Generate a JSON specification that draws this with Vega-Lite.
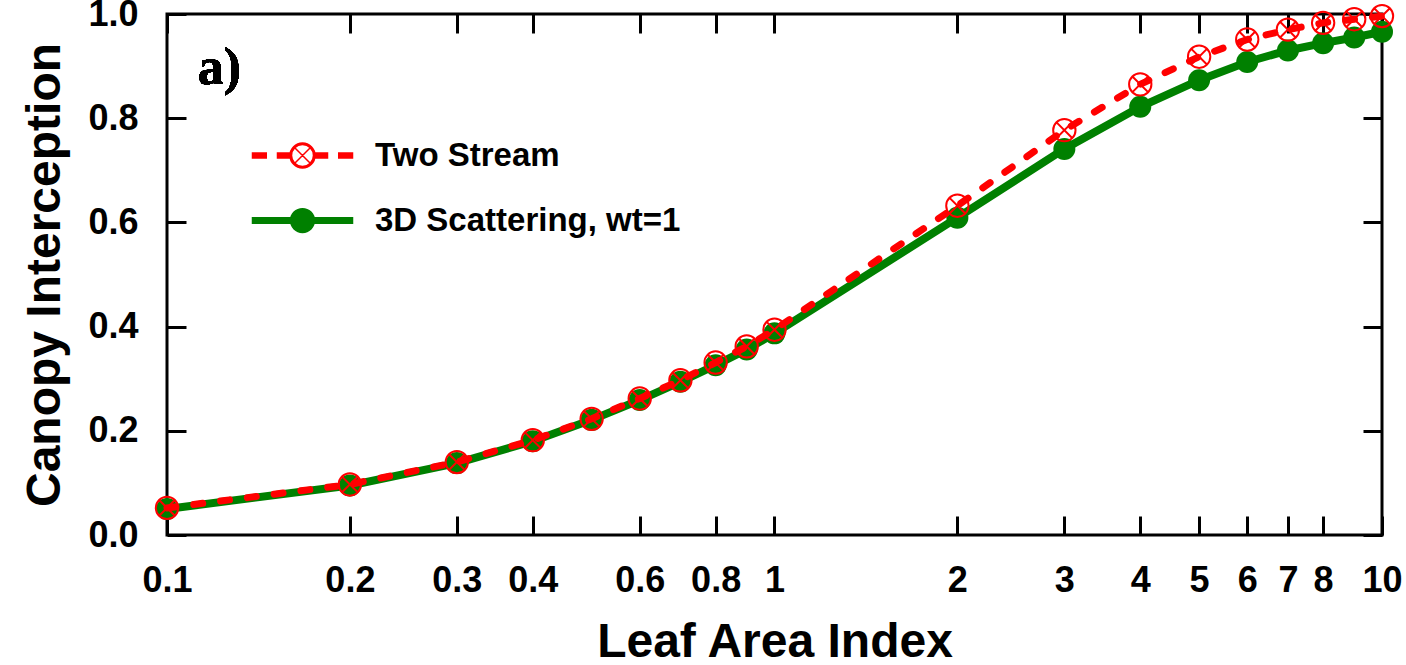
{
  "$schema": "https://vega.github.io/schema/vega-lite/v6.json",
  "width": 1215,
  "height": 521,
  "autosize": {"type": "none"},
  "padding": {"left": 167, "top": 14, "right": 24, "bottom": 130},
  "background": "white",
  "config": {
    "view": {"stroke": "black", "strokeWidth": 3},
    "font": "Liberation Sans",
    "axis": {
      "grid": false,
      "domain": false,
      "tickColor": "black",
      "tickWidth": 3,
      "tickSize": -19,
      "labelFont": "Liberation Sans",
      "labelFontWeight": "bold",
      "labelFontSize": 36,
      "labelColor": "black",
      "titleFont": "Liberation Sans",
      "titleFontWeight": "bold",
      "titleFontSize": 48,
      "titleColor": "black",
      "labelOverlap": false,
      "labelFlush": false,
      "labelBound": false
    }
  },
  "data": {
    "values": [
      {"lai": 0.1, "value": 0.052, "series": "Two Stream"},
      {"lai": 0.2, "value": 0.097, "series": "Two Stream"},
      {"lai": 0.3, "value": 0.14, "series": "Two Stream"},
      {"lai": 0.4, "value": 0.182, "series": "Two Stream"},
      {"lai": 0.5, "value": 0.223, "series": "Two Stream"},
      {"lai": 0.6, "value": 0.262, "series": "Two Stream"},
      {"lai": 0.7, "value": 0.297, "series": "Two Stream"},
      {"lai": 0.8, "value": 0.331, "series": "Two Stream"},
      {"lai": 0.9, "value": 0.362, "series": "Two Stream"},
      {"lai": 1, "value": 0.394, "series": "Two Stream"},
      {"lai": 2, "value": 0.632, "series": "Two Stream"},
      {"lai": 3, "value": 0.777, "series": "Two Stream"},
      {"lai": 4, "value": 0.865, "series": "Two Stream"},
      {"lai": 5, "value": 0.918, "series": "Two Stream"},
      {"lai": 6, "value": 0.951, "series": "Two Stream"},
      {"lai": 7, "value": 0.97, "series": "Two Stream"},
      {"lai": 8, "value": 0.983, "series": "Two Stream"},
      {"lai": 9, "value": 0.99, "series": "Two Stream"},
      {"lai": 10, "value": 0.996, "series": "Two Stream"},
      {"lai": 0.1, "value": 0.05, "series": "3D Scattering, wt=1"},
      {"lai": 0.2, "value": 0.095, "series": "3D Scattering, wt=1"},
      {"lai": 0.3, "value": 0.138, "series": "3D Scattering, wt=1"},
      {"lai": 0.4, "value": 0.18, "series": "3D Scattering, wt=1"},
      {"lai": 0.5, "value": 0.221, "series": "3D Scattering, wt=1"},
      {"lai": 0.6, "value": 0.259, "series": "3D Scattering, wt=1"},
      {"lai": 0.7, "value": 0.294, "series": "3D Scattering, wt=1"},
      {"lai": 0.8, "value": 0.326, "series": "3D Scattering, wt=1"},
      {"lai": 0.9, "value": 0.356, "series": "3D Scattering, wt=1"},
      {"lai": 1, "value": 0.387, "series": "3D Scattering, wt=1"},
      {"lai": 2, "value": 0.609, "series": "3D Scattering, wt=1"},
      {"lai": 3, "value": 0.741, "series": "3D Scattering, wt=1"},
      {"lai": 4, "value": 0.822, "series": "3D Scattering, wt=1"},
      {"lai": 5, "value": 0.873, "series": "3D Scattering, wt=1"},
      {"lai": 6, "value": 0.908, "series": "3D Scattering, wt=1"},
      {"lai": 7, "value": 0.93, "series": "3D Scattering, wt=1"},
      {"lai": 8, "value": 0.944, "series": "3D Scattering, wt=1"},
      {"lai": 9, "value": 0.955, "series": "3D Scattering, wt=1"},
      {"lai": 10, "value": 0.966, "series": "3D Scattering, wt=1"}
    ]
  },
  "layer": [
    {
      "transform": [{"filter": "datum.series === '3D Scattering, wt=1'"}],
      "mark": {"type": "line", "color": "#008000", "strokeWidth": 8, "clip": false},
      "encoding": {
        "x": {
          "field": "lai", "type": "quantitative",
          "scale": {"type": "log", "domain": [0.1, 10], "nice": false},
          "axis": {
            "orient": "bottom",
            "values": [0.1, 0.2, 0.3, 0.4, 0.6, 0.8, 1, 2, 3, 4, 5, 6, 7, 8, 10],
            "format": "~g",
            "labelPadding": 47,
            "title": "Leaf Area Index",
            "titlePadding": 20
          }
        },
        "y": {
          "field": "value", "type": "quantitative",
          "scale": {"domain": [0, 1], "nice": false, "zero": false},
          "axis": {
            "orient": "left",
            "values": [0, 0.2, 0.4, 0.6, 0.8, 1],
            "format": ".1f",
            "labelPadding": 48,
            "title": "Canopy Interception",
            "titlePadding": 18
          }
        }
      }
    },
    {
      "transform": [{"filter": "datum.series === '3D Scattering, wt=1'"}],
      "mark": {"type": "point", "shape": "circle", "filled": true, "color": "#008000", "size": 484, "opacity": 1, "clip": false},
      "encoding": {
        "x": {
          "field": "lai", "type": "quantitative",
          "axis": {
            "orient": "top",
            "values": [0.1, 0.2, 0.3, 0.4, 0.6, 0.8, 1, 2, 3, 4, 5, 6, 7, 8, 10],
            "labels": false,
            "title": null
          }
        },
        "y": {
          "field": "value", "type": "quantitative",
          "axis": {
            "orient": "right",
            "values": [0, 0.2, 0.4, 0.6, 0.8, 1],
            "labels": false,
            "title": null
          }
        }
      }
    },
    {
      "transform": [{"filter": "datum.series === 'Two Stream'"}],
      "mark": {"type": "line", "color": "#ff0000", "strokeWidth": 7, "strokeDash": [9, 18], "strokeCap": "round", "clip": false},
      "encoding": {
        "x": {"field": "lai", "type": "quantitative", "axis": null},
        "y": {"field": "value", "type": "quantitative", "axis": null}
      }
    },
    {
      "transform": [{"filter": "datum.series === 'Two Stream'"}],
      "mark": {
        "type": "point",
        "shape": "M1,0A1,1 0 1,1 -1,0A1,1 0 1,1 1,0Z M-0.7,-0.7L0.7,0.7 M-0.7,0.7L0.7,-0.7",
        "filled": false, "color": "#ff0000", "strokeWidth": 2, "size": 500, "opacity": 1, "clip": false
      },
      "encoding": {
        "x": {"field": "lai", "type": "quantitative", "axis": null},
        "y": {"field": "value", "type": "quantitative", "axis": null}
      }
    },
    {
      "mark": {"type": "point", "opacity": 0, "size": 10},
      "encoding": {
        "x": {"field": "lai", "type": "quantitative", "axis": null},
        "y": {"field": "value", "type": "quantitative", "axis": null},
        "shape": {
          "field": "series", "type": "nominal",
          "scale": {
            "domain": ["Two Stream", "3D Scattering, wt=1"],
            "range": [
              "M-4,-0.2H-2.9V0.2H-4Z M-2,-0.2H-0.95V0.2H-2Z M0.95,-0.2H2V0.2H0.95Z M2.9,-0.2H4V0.2H2.9Z M1,0A1,1 0 1,1 -1,0A1,1 0 1,1 1,0Z M0.88,0A0.88,0.88 0 1,0 -0.88,0A0.88,0.88 0 1,0 0.88,0Z M-0.62,-0.62L0.62,0.62 M-0.62,0.62L0.62,-0.62",
              "M-4,-0.22H4V0.22H-4Z M0.95,0A0.95,0.95 0 1,1 -0.95,0A0.95,0.95 0 1,1 0.95,0Z"
            ]
          },
          "legend": {
            "orient": "none", "legendX": 119, "legendY": 125, "title": null, "padding": 0,
            "labelFont": "Liberation Sans", "labelFontWeight": "bold", "labelFontSize": 33, "labelColor": "black", "labelLimit": 800,
            "labelOffset": 56, "rowPadding": 31, "symbolSize": 625, "symbolStrokeWidth": 1.5, "symbolOpacity": 1
          }
        },
        "fill": {
          "field": "series", "type": "nominal",
          "scale": {"domain": ["Two Stream", "3D Scattering, wt=1"], "range": ["#ff0000", "#008000"]},
          "legend": {
            "orient": "none", "legendX": 119, "legendY": 125, "title": null, "padding": 0,
            "labelFont": "Liberation Sans", "labelFontWeight": "bold", "labelFontSize": 33, "labelColor": "black", "labelLimit": 800,
            "labelOffset": 56, "rowPadding": 31, "symbolSize": 625, "symbolStrokeWidth": 1.5, "symbolOpacity": 1
          }
        },
        "stroke": {
          "field": "series", "type": "nominal",
          "scale": {"domain": ["Two Stream", "3D Scattering, wt=1"], "range": ["#ff0000", "#008000"]},
          "legend": {
            "orient": "none", "legendX": 119, "legendY": 125, "title": null, "padding": 0,
            "labelFont": "Liberation Sans", "labelFontWeight": "bold", "labelFontSize": 33, "labelColor": "black", "labelLimit": 800,
            "labelOffset": 56, "rowPadding": 31, "symbolSize": 625, "symbolStrokeWidth": 1.5, "symbolOpacity": 1
          }
        }
      }
    },
    {
      "mark": {"type": "text", "text": "a)", "font": "Liberation Serif", "fontWeight": "bold", "fontSize": 52, "align": "center", "baseline": "middle", "color": "black"},
      "encoding": {
        "x": {"datum": 0.122, "type": "quantitative", "axis": null},
        "y": {"datum": 0.896, "type": "quantitative", "axis": null}
      }
    }
  ],
  "resolve": {"axis": {"x": "independent", "y": "independent"}}
}
